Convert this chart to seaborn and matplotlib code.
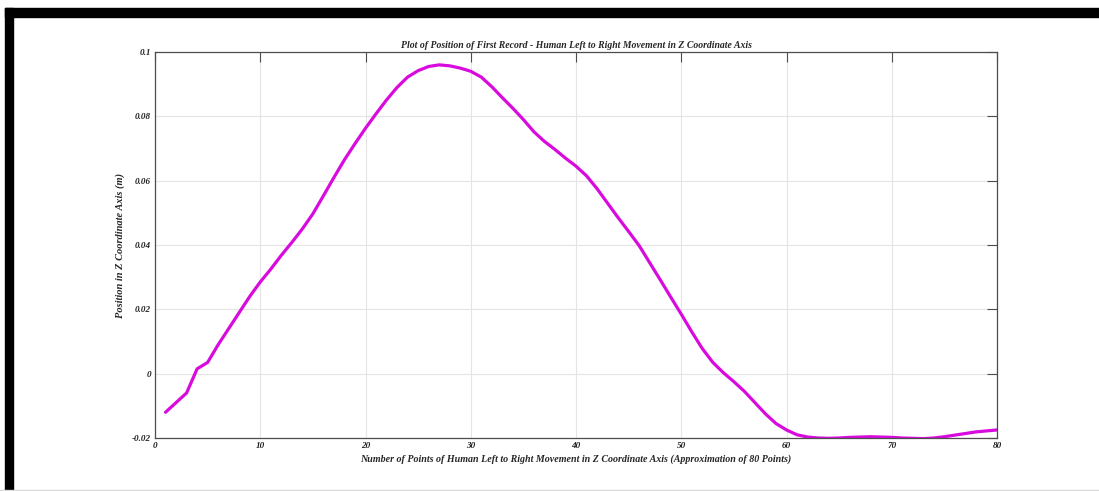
import matplotlib
matplotlib.use("Agg")
import matplotlib.pyplot as plt
import pandas as pd
import seaborn as sns
from matplotlib.patches import Rectangle
from matplotlib.ticker import FuncFormatter, MultipleLocator

# point index along the movement (1..80)
points = list(range(1, 81))

# z position (m)
z_position = [
    -0.0120, -0.0090, -0.0060, 0.0015, 0.0035, 0.0090, 0.0140, 0.0190, 0.0240, 0.0285,
    0.0325, 0.0368, 0.0408, 0.0450, 0.0497, 0.0553, 0.0610, 0.0665, 0.0715, 0.0763,
    0.0808, 0.0851, 0.0890, 0.0922, 0.0942, 0.0955, 0.0960, 0.0957, 0.0950, 0.0940,
    0.0922, 0.0892, 0.0858, 0.0825, 0.0790, 0.0752, 0.0722, 0.0697, 0.0670, 0.0645,
    0.0615, 0.0575, 0.0530, 0.0485, 0.0442, 0.0398, 0.0345, 0.0292, 0.0238, 0.0185,
    0.0130, 0.0078, 0.0035, 0.0003, -0.0025, -0.0055, -0.0090, -0.0125, -0.0155, -0.0175,
    -0.0190, -0.0197, -0.0200, -0.0201, -0.0200, -0.0198, -0.0197, -0.0196, -0.0197, -0.0198,
    -0.0200, -0.0201, -0.0202, -0.0200, -0.0196, -0.0191, -0.0186, -0.0181, -0.0178, -0.0175,
]

title = "Plot of Position of First Record - Human Left to Right Movement in Z Coordinate Axis"
x_label = "Number of Points of Human Left to Right Movement in Z Coordinate Axis (Approximation of 80 Points)"
y_label = "Position in Z Coordinate Axis (m)"


def main():
    df = pd.DataFrame({"point": points, "z": z_position})

    sns.set_theme(style="white")
    plt.rcParams["font.family"] = ["Liberation Serif", "DejaVu Serif"]
    plt.rcParams["font.weight"] = "bold"
    plt.rcParams["font.style"] = "italic"

    fig = plt.figure(figsize=(10.99, 4.91), dpi=100)
    ax = fig.add_axes([155 / 1099, 1 - 438 / 491, (997 - 155) / 1099, (438 - 52) / 491])

    sns.lineplot(data=df, x="point", y="z", color="#d90ade", linewidth=2.3, ax=ax)

    ax.set_xlim(0, 80)
    ax.set_ylim(-0.02, 0.1)
    ax.xaxis.set_major_locator(MultipleLocator(10))
    ax.yaxis.set_major_locator(MultipleLocator(0.02))
    ax.yaxis.set_major_formatter(FuncFormatter(lambda y, _: f"{round(y, 4):g}"))
    ax.grid(True, color="#e4e4e4", linewidth=0.8)
    ax.set_axisbelow(True)

    for spine in ax.spines.values():
        spine.set_color("#4d4d4d")
        spine.set_linewidth(0.9)

    ax.tick_params(direction="in", length=7, width=0.8, color="#4d4d4d",
                   top=True, right=True, labelsize=6.6, labelcolor="#222222", pad=3)

    ax.set_title(title, fontsize=7, fontweight="bold", fontstyle="italic", pad=3)
    ax.set_xlabel(x_label, fontsize=7.2, fontweight="bold", fontstyle="italic", labelpad=3)
    ax.set_ylabel(y_label, fontsize=7.5, fontweight="bold", fontstyle="italic", labelpad=5)

    # black frame around the screenshot
    W, H = 1099, 491
    fig.patches.append(Rectangle((5 / W, 1 - 17 / H), 1 - 5 / W, 9 / H,
                                 transform=fig.transFigure, color="black", zorder=10))
    fig.patches.append(Rectangle((5 / W, 0), 8 / W, 1 - 8 / H,
                                 transform=fig.transFigure, color="black", zorder=10))
    fig.patches.append(Rectangle((0, 0), 1, 1.5 / H,
                                 transform=fig.transFigure, color="#d8d8d8", zorder=10))

    fig.savefig("out.png", dpi=100)


if __name__ == "__main__":
    main()
